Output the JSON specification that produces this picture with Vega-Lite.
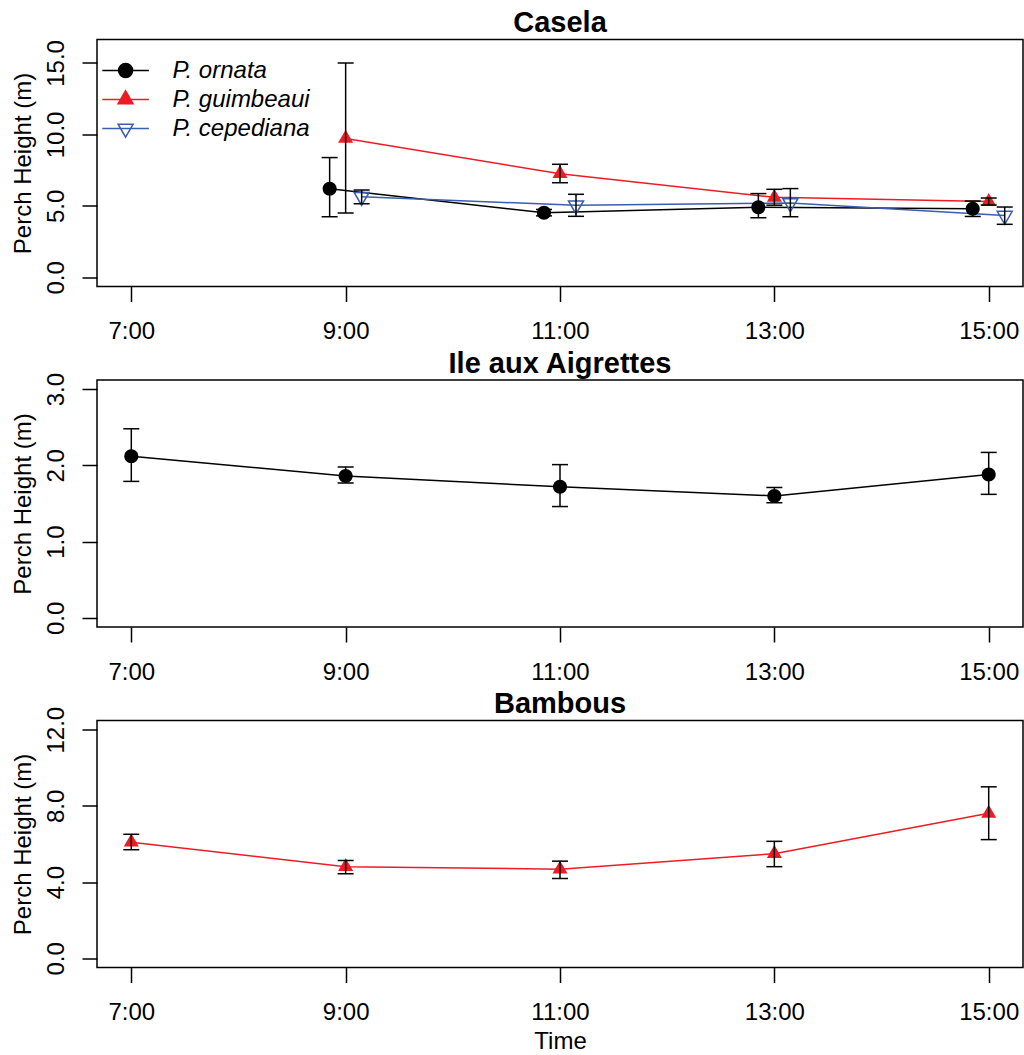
{
  "$schema": "https://vega.github.io/schema/vega-lite/v6.json",
  "padding": {"left": 10, "top": 7.5, "right": 0, "bottom": 0},
  "background": "white",
  "data": {"values": [
    {"site": "Casela", "species": "P. ornata", "time": 9, "mean": 6.2, "lo": 4.24, "hi": 8.38},
    {"site": "Casela", "species": "P. ornata", "time": 11, "mean": 4.52, "lo": 4.3, "hi": 4.75},
    {"site": "Casela", "species": "P. ornata", "time": 13, "mean": 4.9, "lo": 4.17, "hi": 5.86},
    {"site": "Casela", "species": "P. ornata", "time": 15, "mean": 4.8, "lo": 4.26, "hi": 5.34},
    {"site": "Casela", "species": "P. guimbeaui", "time": 9, "mean": 9.72, "lo": 4.5, "hi": 15.0},
    {"site": "Casela", "species": "P. guimbeaui", "time": 11, "mean": 7.25, "lo": 6.62, "hi": 7.91},
    {"site": "Casela", "species": "P. guimbeaui", "time": 13, "mean": 5.6, "lo": 5.05, "hi": 6.16},
    {"site": "Casela", "species": "P. guimbeaui", "time": 15, "mean": 5.3, "lo": 5.06, "hi": 5.55},
    {"site": "Casela", "species": "P. cepediana", "time": 9, "mean": 5.64, "lo": 5.15, "hi": 6.11},
    {"site": "Casela", "species": "P. cepediana", "time": 11, "mean": 5.04, "lo": 4.27, "hi": 5.81},
    {"site": "Casela", "species": "P. cepediana", "time": 13, "mean": 5.2, "lo": 4.24, "hi": 6.21},
    {"site": "Casela", "species": "P. cepediana", "time": 15, "mean": 4.32, "lo": 3.71, "hi": 4.92},
    {"site": "Ile aux Aigrettes", "species": "P. ornata", "time": 7, "mean": 2.12, "lo": 1.79, "hi": 2.48},
    {"site": "Ile aux Aigrettes", "species": "P. ornata", "time": 9, "mean": 1.86, "lo": 1.77, "hi": 1.98},
    {"site": "Ile aux Aigrettes", "species": "P. ornata", "time": 11, "mean": 1.72, "lo": 1.46, "hi": 2.01},
    {"site": "Ile aux Aigrettes", "species": "P. ornata", "time": 13, "mean": 1.6, "lo": 1.51, "hi": 1.71},
    {"site": "Ile aux Aigrettes", "species": "P. ornata", "time": 15, "mean": 1.88, "lo": 1.62, "hi": 2.17},
    {"site": "Bambous", "species": "P. guimbeaui", "time": 7, "mean": 6.09, "lo": 5.7, "hi": 6.51},
    {"site": "Bambous", "species": "P. guimbeaui", "time": 9, "mean": 4.81, "lo": 4.44, "hi": 5.14},
    {"site": "Bambous", "species": "P. guimbeaui", "time": 11, "mean": 4.68, "lo": 4.19, "hi": 5.1},
    {"site": "Bambous", "species": "P. guimbeaui", "time": 13, "mean": 5.49, "lo": 4.81, "hi": 6.14},
    {"site": "Bambous", "species": "P. guimbeaui", "time": 15, "mean": 7.61, "lo": 6.23, "hi": 9.0}
  ]},
  "vconcat": [
    {
      "width": 926, "height": 247,
      "title": {"text": "Casela", "offset": 1.5},
      "transform": [{"filter": "datum.site == 'Casela'"}],
      "encoding": {
        "x": {"field": "time", "type": "ordinal", "title": null,
              "scale": {"type": "point", "domain": [7, 9, 11, 13, 15], "padding": 0.16},
              "axis": {"labelExpr": "datum.value + ':00'"}},
        "xOffset": {"field": "species", "type": "nominal",
              "scale": {"type": "point", "domain": ["P. ornata", "P. guimbeaui", "P. cepediana"], "range": [-16, 16], "padding": 0}},
        "y": {"field": "mean", "type": "quantitative", "title": "Perch Height (m)",
              "scale": {"domain": [-0.64, 16.64], "nice": false, "zero": false},
              "axis": {"values": [0, 5, 10, 15], "format": ".1f"}}
      },
      "layer": [
        {"mark": {"type": "point", "filled": true, "size": 300, "opacity": 0},
         "encoding": {
           "shape": {"field": "species", "type": "nominal",
                 "scale": {"domain": ["P. ornata", "P. guimbeaui", "P. cepediana"],
                           "range": ["M-2.69,0H2.69M0.808,0A0.808,0.808,0,1,1,-0.808,0A0.808,0.808,0,1,1,0.808,0Z", "M-2.69,0H2.69M0,-1L0.866,0.5L-0.866,0.5Z", "M-2.69,0H2.69M0,1L0.866,-0.5L-0.866,-0.5Z"]},
                 "legend": {"title": null, "orient": "none", "legendX": 16.6, "legendY": 19}},
           "fill": {"field": "species", "type": "nominal",
                 "scale": {"domain": ["P. ornata", "P. guimbeaui", "P. cepediana"], "range": ["black", "#ED1C24", "transparent"]},
                 "legend": {"title": null, "orient": "none", "legendX": 16.6, "legendY": 19}},
           "stroke": {"field": "species", "type": "nominal",
                 "scale": {"domain": ["P. ornata", "P. guimbeaui", "P. cepediana"], "range": ["black", "#ED1C24", "#3A5DAE"]},
                 "legend": {"title": null, "orient": "none", "legendX": 16.6, "legendY": 19}}
         }},
        {"mark": {"type": "line", "strokeWidth": 1.5},
         "encoding": {
           "stroke": {"field": "species", "type": "nominal",
                 "scale": {"domain": ["P. ornata", "P. guimbeaui", "P. cepediana"], "range": ["black", "#ED1C24", "#3A5DAE"]},
                 "legend": {"title": null, "orient": "none", "legendX": 16.6, "legendY": 19}}
         }},
        {"transform": [{"filter": "datum.species == 'P. ornata'"}],
         "mark": {"type": "point", "filled": true, "size": 300, "opacity": 1, "color": "black",
                  "shape": "M0.808,0A0.808,0.808,0,1,1,-0.808,0A0.808,0.808,0,1,1,0.808,0Z"}},
        {"transform": [{"filter": "datum.species == 'P. guimbeaui'"}],
         "mark": {"type": "point", "filled": true, "size": 300, "opacity": 1, "color": "#ED1C24",
                  "shape": "M0,-1L0.866,0.5L-0.866,0.5Z"}},
        {"transform": [{"filter": "datum.species == 'P. cepediana'"}],
         "mark": {"type": "point", "filled": false, "size": 300, "opacity": 1, "color": "#3A5DAE", "strokeWidth": 1.5,
                  "shape": "M0,1L0.866,-0.5L-0.866,-0.5Z"}},
        {"mark": {"type": "rule", "color": "black", "strokeWidth": 1.5},
         "encoding": {"y": {"field": "lo", "type": "quantitative", "title": "Perch Height (m)"}, "y2": {"field": "hi"}}},
        {"mark": {"type": "tick", "orient": "horizontal", "size": 16, "thickness": 1.5, "color": "black", "opacity": 1},
         "encoding": {"y": {"field": "lo", "type": "quantitative", "title": "Perch Height (m)"}}},
        {"mark": {"type": "tick", "orient": "horizontal", "size": 16, "thickness": 1.5, "color": "black", "opacity": 1},
         "encoding": {"y": {"field": "hi", "type": "quantitative", "title": "Perch Height (m)"}}}
      ]
    },
    {
      "width": 926, "height": 247,
      "title": {"text": "Ile aux Aigrettes", "offset": -6.5},
      "transform": [{"filter": "datum.site == 'Ile aux Aigrettes'"}],
      "encoding": {
        "x": {"field": "time", "type": "ordinal", "title": null,
              "scale": {"type": "point", "domain": [7, 9, 11, 13, 15], "padding": 0.16},
              "axis": {"labelExpr": "datum.value + ':00'"}},
        "y": {"field": "mean", "type": "quantitative", "title": "Perch Height (m)",
              "scale": {"domain": [-0.12, 3.12], "nice": false, "zero": false},
              "axis": {"values": [0, 1, 2, 3], "format": ".1f"}}
      },
      "layer": [
        {"mark": {"type": "line", "strokeWidth": 1.5, "color": "black"}},
        {"mark": {"type": "point", "filled": true, "size": 300, "opacity": 1, "color": "black",
                  "shape": "M0.808,0A0.808,0.808,0,1,1,-0.808,0A0.808,0.808,0,1,1,0.808,0Z"}},
        {"mark": {"type": "rule", "color": "black", "strokeWidth": 1.5},
         "encoding": {"y": {"field": "lo", "type": "quantitative", "title": "Perch Height (m)"}, "y2": {"field": "hi"}}},
        {"mark": {"type": "tick", "orient": "horizontal", "size": 16, "thickness": 1.5, "color": "black", "opacity": 1},
         "encoding": {"y": {"field": "lo", "type": "quantitative", "title": "Perch Height (m)"}}},
        {"mark": {"type": "tick", "orient": "horizontal", "size": 16, "thickness": 1.5, "color": "black", "opacity": 1},
         "encoding": {"y": {"field": "hi", "type": "quantitative", "title": "Perch Height (m)"}}}
      ]
    },
    {
      "width": 926, "height": 247,
      "title": {"text": "Bambous", "offset": -13},
      "transform": [{"filter": "datum.site == 'Bambous'"}],
      "encoding": {
        "x": {"field": "time", "type": "ordinal", "title": "Time",
              "scale": {"type": "point", "domain": [7, 9, 11, 13, 15], "padding": 0.16},
              "axis": {"labelExpr": "datum.value + ':00'"}},
        "y": {"field": "mean", "type": "quantitative", "title": "Perch Height (m)",
              "scale": {"domain": [-0.48, 12.48], "nice": false, "zero": false},
              "axis": {"values": [0, 4, 8, 12], "format": ".1f"}}
      },
      "layer": [
        {"mark": {"type": "line", "strokeWidth": 1.5, "color": "#ED1C24"}},
        {"mark": {"type": "point", "filled": true, "size": 300, "opacity": 1, "color": "#ED1C24",
                  "shape": "M0,-1L0.866,0.5L-0.866,0.5Z"}},
        {"mark": {"type": "rule", "color": "black", "strokeWidth": 1.5},
         "encoding": {"y": {"field": "lo", "type": "quantitative", "title": "Perch Height (m)"}, "y2": {"field": "hi"}}},
        {"mark": {"type": "tick", "orient": "horizontal", "size": 16, "thickness": 1.5, "color": "black", "opacity": 1},
         "encoding": {"y": {"field": "lo", "type": "quantitative", "title": "Perch Height (m)"}}},
        {"mark": {"type": "tick", "orient": "horizontal", "size": 16, "thickness": 1.5, "color": "black", "opacity": 1},
         "encoding": {"y": {"field": "hi", "type": "quantitative", "title": "Perch Height (m)"}}}
      ]
    }
  ],
  "spacing": 93.5,
  "bounds": "flush",
  "resolve": {"scale": {"fill": "independent", "stroke": "independent", "shape": "independent"}},
  "config": {
    "font": "Liberation Sans",
    "view": {"stroke": "black", "strokeWidth": 1.5},
    "axis": {"grid": false, "domain": false, "tickColor": "black", "tickWidth": 1.5, "tickSize": 15,
             "labelFontSize": 24, "labelColor": "black", "labelFont": "Liberation Sans", "labelOverlap": false,
             "titleFontSize": 24, "titleFontWeight": "normal", "titleColor": "black", "titleFont": "Liberation Sans"},
    "axisX": {"labelPadding": 18, "labelAngle": 0, "titlePadding": 5, "labelFlush": false},
    "axisY": {"labelAngle": -90, "labelAlign": "center", "labelBaseline": "alphabetic", "labelPadding": 19, "titlePadding": 9},
    "legend": {"labelFontSize": 24, "labelFontStyle": "italic", "labelFont": "Liberation Sans", "labelColor": "black",
               "labelOffset": 35, "rowPadding": 5, "symbolSize": 300, "symbolStrokeWidth": 1.5, "symbolOpacity": 1},
    "title": {"fontSize": 29, "fontWeight": "bold", "anchor": "middle", "frame": "group", "baseline": "alphabetic", "color": "black", "font": "Liberation Sans"}
  }
}
